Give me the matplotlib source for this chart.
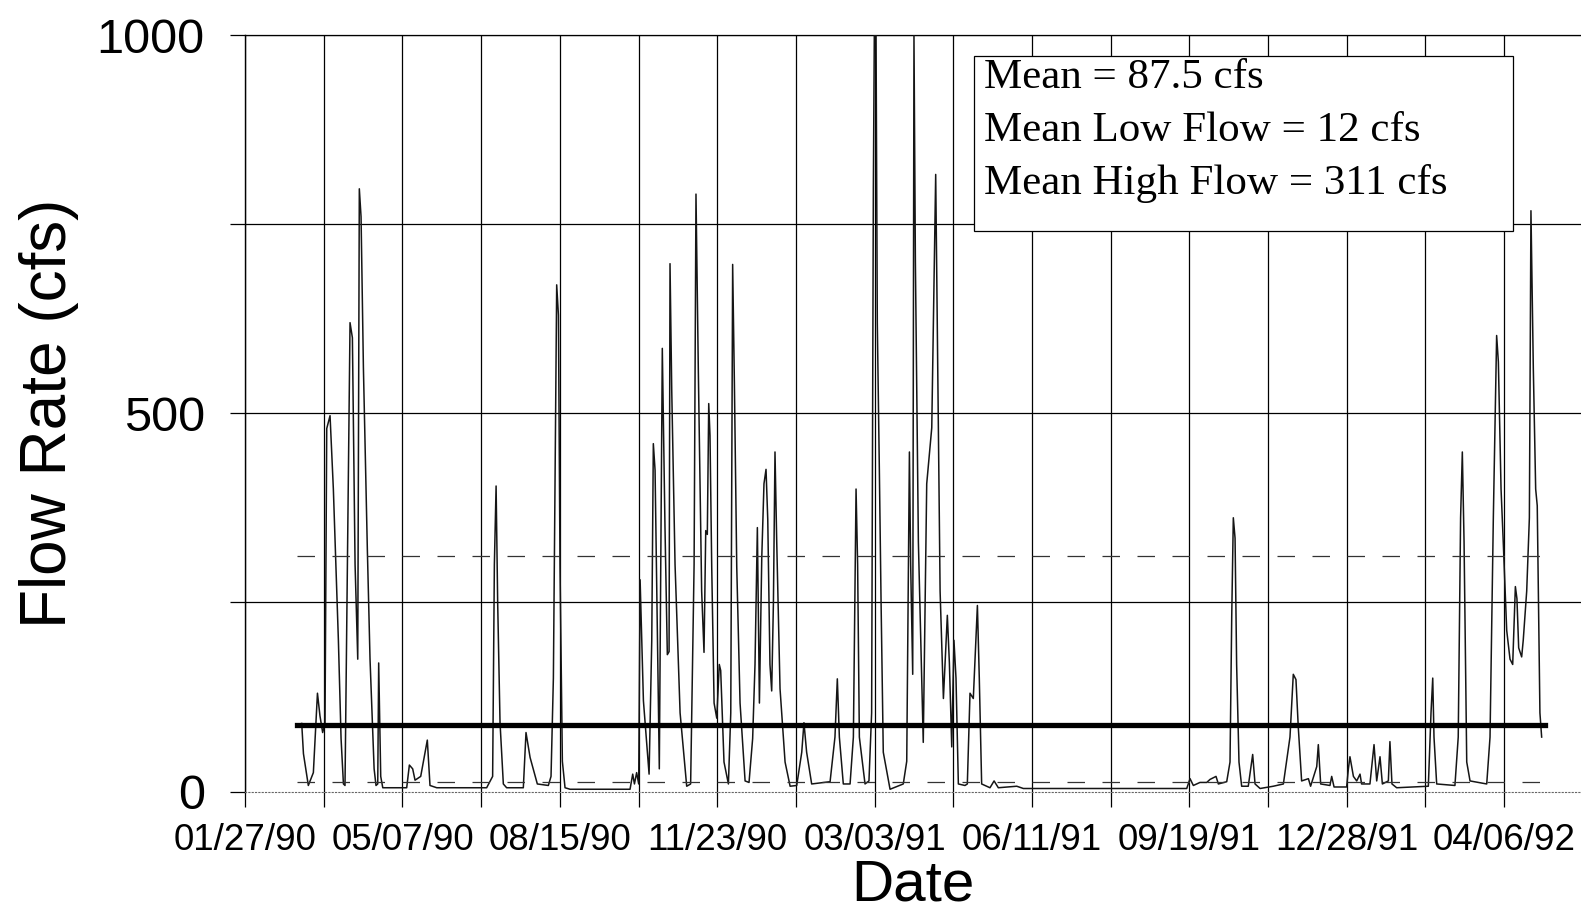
import datetime as dt

import matplotlib
matplotlib.use("Agg")
import matplotlib.pyplot as plt
import matplotlib.dates as mdates
from matplotlib.patches import Rectangle
from matplotlib.ticker import FixedLocator, NullFormatter

# Inicio do eixo de datas
inicio = dt.datetime(1990, 1, 27)

# Dias desde 01/27/90 e vazao (cfs)
dias = [
    36.0, 37.1, 40.2, 43.4, 46.0, 47.6, 49.3, 50.8, 51.9, 54.0, 56.1, 59.3, 61.0, 62.5, 63.5,
    65.0, 66.7, 68.2, 69.9, 71.6, 72.6, 73.7, 75.2, 77.7, 79.4, 82.0, 83.2, 84.3, 84.9, 86.2,
    87.5, 102.7, 104.4, 106.5, 108.0, 111.6, 115.8, 117.5, 121.8,
    153.5, 157.3, 158.4, 159.5, 160.5, 162.0, 164.1, 166.2, 176.8, 178.5, 181.1, 185.7, 192.7,
    194.4, 195.9, 198.0, 199.1, 200.1, 201.6, 203.3, 206.5, 244.6, 246.3, 247.4, 248.8, 250.1,
    251.0, 253.1, 256.7, 258.4, 259.4, 260.5, 263.2, 265.1, 266.8, 268.3, 269.4, 270.0, 271.1,
    273.2, 276.4, 280.6, 283.1, 285.3, 286.5, 288.0, 290.1, 291.6, 292.7, 293.7, 294.6, 295.4,
    296.5, 298.0, 299.7, 301.3, 302.2, 304.3, 307.1, 308.6, 309.8, 310.9, 312.4, 314.5, 317.7,
    320.2, 322.5, 324.0, 325.5, 326.8, 328.3, 329.7, 331.0, 332.1, 333.5, 334.6, 335.7, 336.7,
    337.8, 339.9, 343.1, 346.3, 350.5, 353.7, 355.1, 356.8, 360.0, 371.7, 374.8, 376.3, 377.6,
    380.1, 384.4, 386.5, 388.2, 389.2, 390.3, 393.9, 396.4, 398.1, 399.2, 399.8, 400.9, 401.7,
    403.0, 404.1, 405.5, 409.8,
    418.2, 420.4, 422.1, 422.9, 424.2, 425.0, 425.9, 427.8, 430.9, 433.1, 436.3, 438.8, 439.9,
    441.6, 443.7, 446.2, 447.5, 449.0, 450.4, 451.7, 453.2, 457.4, 458.9, 460.6, 462.7, 465.3,
    466.5, 468.0, 473.3, 475.9, 478.6, 490.3, 494.5,
    598.3, 600.4, 602.5, 606.7, 611.0, 613.1, 616.9, 618.4, 623.7, 625.8, 626.9, 627.9, 629.0,
    630.0, 631.5, 633.2, 637.4, 640.2, 641.7, 644.9, 653.3, 659.7, 663.9, 666.0, 667.7, 669.2,
    671.3, 675.6, 677.0, 680.9, 681.9, 683.4, 689.3, 690.4, 691.9,
    699.9, 701.0, 702.0, 704.2, 706.3, 708.4, 709.4, 714.7, 717.3, 719.0, 721.1, 722.6, 726.4,
    727.4, 728.7, 731.7, 751.8, 753.5, 754.6, 755.4, 757.1, 768.7, 770.8, 772.3, 773.4, 774.5,
    776.2, 778.3, 788.9, 791.0, 793.1, 795.2, 796.3, 798.0, 799.4, 801.6, 803.7, 805.4, 807.1,
    808.1, 809.2, 811.1, 812.1, 814.3, 816.0, 817.0, 818.5, 820.0, 821.0, 822.7, 823.8,
]
vazao = [
    90, 50, 8, 25, 130, 100, 78, 90, 480, 497, 400, 200, 70, 10, 8,
    300, 620, 600, 300, 175, 797, 760, 560, 320, 175, 30, 8, 10, 170, 20,
    5, 5, 35, 30, 15, 20, 68, 8, 5,
    5, 20, 300, 404, 250, 91, 10, 5, 5, 78, 45, 10, 8,
    20, 150, 670, 630, 300, 40, 5, 3, 3, 23, 10, 25, 10,
    280, 120, 23, 200, 460, 425, 30, 586, 350, 181, 185, 698, 530,
    300, 104, 7, 10, 300, 790, 555, 265, 184, 345, 340, 513, 471,
    297, 117, 97, 168, 160, 39, 10, 104, 697, 540, 297, 117, 14,
    12, 70, 168, 349, 117, 310, 407, 426, 360, 168, 133, 250, 449,
    330, 136, 39, 7, 8, 52, 91, 52, 10, 13, 72, 149, 72,
    10, 10, 72, 400, 300, 72, 10, 14, 104, 800, 1000, 1000, 620,
    426, 250, 52, 3,
    10, 40, 449, 300, 155, 1000, 700, 330, 65, 407, 481, 816, 600,
    265, 123, 233, 170, 59, 200, 150, 10, 8, 10, 130, 123, 246,
    150, 10, 5, 14, 5, 7, 4,
    4, 17, 8, 12, 12, 16, 20, 10, 13, 39, 233, 362, 335,
    168, 39, 7, 7, 49, 10, 4, 7, 10, 72, 155, 148, 84,
    14, 17, 7, 33, 62, 10, 8, 20, 6,
    6, 30, 46, 20, 14, 23, 10, 10, 62, 14, 46, 10, 14,
    66, 10, 5, 7, 104, 150, 72, 10, 8, 72, 362, 449, 330,
    39, 14, 10, 72, 362, 603, 568, 400, 330, 213, 175, 168, 271,
    255, 190, 178, 200, 265, 362, 768, 560, 400, 378, 104, 72,
]

# Estatisticas mostradas no quadro
media = 87.5
media_baixa = 12
media_alta = 311
textos = ["Mean = 87.5 cfs", "Mean Low Flow = 12 cfs", "Mean High Flow = 311 cfs"]

x0 = mdates.date2num(inicio)
x = [x0 + d for d in dias]

fig = plt.figure(figsize=(15.81, 9.14), dpi=100)
ax = fig.add_axes([0.155, 0.134, 0.845, 0.8274])

ax.plot(x, vazao, color="#151515", lw=1.1, zorder=3)

# Linhas de referencia (media, media baixa, media alta)
xr = [x[0] - 3, x[-1] + 2]
ax.plot(xr, [media, media], color="black", lw=3.8, zorder=4)
ax.plot(xr, [media_alta, media_alta], color="#333333", lw=0.9, dashes=(14, 14), zorder=3)
ax.plot(xr, [media_baixa, media_baixa], color="#333333", lw=0.9, dashes=(14, 14), zorder=3)

ax.set_xlim(x0, x0 + 848.8)
ax.set_ylim(0, 1000)

# Ticks: rotulos a cada 100 dias, grade a cada 50
ax.xaxis.set_major_locator(FixedLocator([x0 + 100 * k for k in range(9)]))
ax.xaxis.set_minor_locator(FixedLocator([x0 + 50 + 100 * k for k in range(9)]))
ax.xaxis.set_major_formatter(mdates.DateFormatter("%m/%d/%y"))
ax.xaxis.set_minor_formatter(NullFormatter())
ax.yaxis.set_major_locator(FixedLocator([0, 500, 1000]))
ax.yaxis.set_minor_locator(FixedLocator([250, 750]))

ax.grid(which="both", color="black", lw=0.9)
ax.set_axisbelow(True)
ax.yaxis.get_major_ticks()[0].gridline.set_visible(False)

ax.tick_params(which="both", direction="out", length=11, width=0.9, color="black")
ax.tick_params(axis="x", which="major", labelsize=26.5, pad=12)
ax.tick_params(axis="y", which="major", labelsize=35, pad=18)
for lbl in ax.get_xticklabels() + ax.get_yticklabels():
    lbl.set_fontfamily("Liberation Sans")

ax.spines["right"].set_visible(False)
ax.spines["top"].set_linewidth(0.9)
ax.spines["left"].set_linewidth(1.0)
ax.spines["bottom"].set_color("#666666")
ax.spines["bottom"].set_linewidth(0.8)
ax.spines["bottom"].set_linestyle((0, (1, 2)))

ax.set_xlabel("Date", fontsize=42, fontfamily="Liberation Sans")
ax.set_ylabel("Flow Rate (cfs)", fontsize=46, fontfamily="Liberation Sans")
ax.xaxis.set_label_coords(0.5, -0.088)
ax.yaxis.set_label_coords(-0.124, 0.5)

# Quadro com as estatisticas
ax.add_patch(Rectangle((0.5457, 0.7412), 0.4034, 0.2308, transform=ax.transAxes,
                       facecolor="white", edgecolor="black", lw=0.9, zorder=5))
for texto, yb in zip(textos, [0.9307, 0.860, 0.7907]):
    ax.text(0.553, yb, texto, transform=ax.transAxes, fontsize=31,
            fontfamily="Liberation Serif", va="baseline", ha="left", zorder=6)

fig.savefig("out.png", dpi=100)
